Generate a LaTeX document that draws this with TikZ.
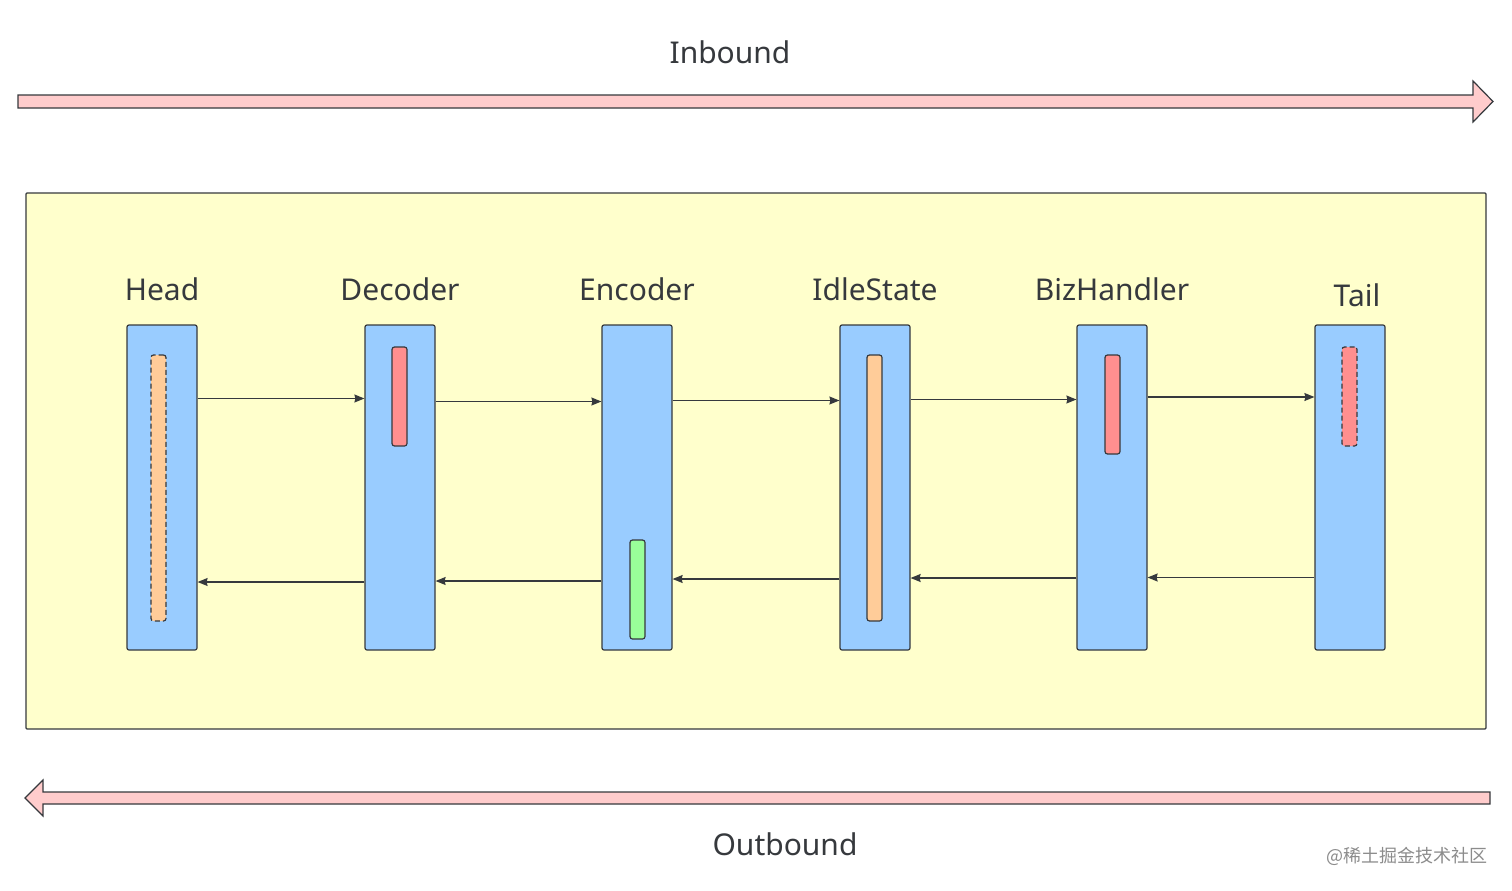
\documentclass[tikz,border=0pt]{standalone}
\usepackage{fontspec}
\usetikzlibrary{arrows.meta}
\setmainfont{Noto Sans}
\newfontfamily\cjk{Noto Sans CJK SC}
\definecolor{bgyellow}{HTML}{FFFFCC}
\definecolor{colblue}{HTML}{99CCFF}
\definecolor{barorange}{HTML}{FFCC99}
\definecolor{barred}{HTML}{FF8F8F}
\definecolor{bargreen}{HTML}{99FF99}
\definecolor{arrowpink}{HTML}{FFCCCC}
\definecolor{stroke}{HTML}{36393D}
\begin{document}
\begin{tikzpicture}[x=1pt,y=-1pt,
  col/.style={draw=stroke,fill=colblue,line width=1.2pt,rounded corners=2pt,minimum width=70pt,minimum height=325pt,inner sep=0pt},
  bar/.style={draw=stroke,line width=1.2pt,rounded corners=2.5pt,minimum width=15pt,inner sep=0pt},
  dashbar/.style={bar,dash pattern=on 5pt off 3pt},
  lbl/.style={font=\fontsize{30}{35}\selectfont,text=stroke,inner sep=0pt},
  conn/.style={draw=stroke,line width=1.3pt,-{Stealth[length=10pt,width=8pt,inset=1pt]}},
  big/.style={draw=stroke,fill=arrowpink,line width=1.2pt,line join=miter}]
\useasboundingbox (0,0) rectangle (1512,891);
\fill[white] (0,0) rectangle (1512,891);
% big arrows
\draw[big] (18,95) -- (1473,95) -- (1473,81) -- (1493,101.5) -- (1473,122) -- (1473,108) -- (18,108) -- cycle;
\draw[big] (1490,792) -- (43,792) -- (43,780) -- (25,798) -- (43,816) -- (43,804) -- (1490,804) -- cycle;
\node[lbl] (inb) at (730,52) {Inbound};
\node[lbl] (outb) at (785,844) {Outbound};
% container
\node[draw=stroke,fill=bgyellow,line width=1.2pt,minimum width=1460pt,minimum height=536pt,inner sep=0pt,rounded corners=1pt] (box) at (756,461) {};
% columns
\node[col] (head) at (162,487.5) {};
\node[col] (dec) at (400,487.5) {};
\node[col] (enc) at (637,487.5) {};
\node[col] (idle) at (875,487.5) {};
\node[col] (biz) at (1112,487.5) {};
\node[col] (tail) at (1350,487.5) {};
% labels
\node[lbl] (lhead) at (162,289) {Head};
\node[lbl] (ldec) at (400,289) {Decoder};
\node[lbl] (lenc) at (637,289) {Encoder};
\node[lbl] (lidle) at (875,289) {IdleState};
\node[lbl] (lbiz) at (1112,289) {BizHandler};
\node[lbl] (ltail) at (1357,295) {Tail};
% inner bars
\node[dashbar,fill=barorange,minimum height=266pt] (bhead) at (158.5,488) {};
\node[bar,fill=barred,minimum height=99pt] (bdec) at (399.5,396.5) {};
\node[bar,fill=bargreen,minimum height=99pt] (benc) at (637.5,589.5) {};
\node[bar,fill=barorange,minimum height=266pt] (bidle) at (874.5,488) {};
\node[bar,fill=barred,minimum height=99pt] (bbiz) at (1112.5,404.5) {};
\node[dashbar,fill=barred,minimum height=99pt] (btail) at (1349.5,396.5) {};
% level coordinates
\coordinate (f1) at (0,398.5);
\coordinate (f2) at (0,401.5);
\coordinate (f3) at (0,400.5);
\coordinate (f4) at (0,399.5);
\coordinate (f5) at (0,397);
\coordinate (g1) at (0,582);
\coordinate (g2) at (0,581);
\coordinate (g3) at (0,579);
\coordinate (g4) at (0,578);
\coordinate (g5) at (0,577.5);
% forward connectors
\draw[conn] (head.east |- f1) -- (dec.west |- f1);
\draw[conn] (dec.east |- f2) -- (enc.west |- f2);
\draw[conn] (enc.east |- f3) -- (idle.west |- f3);
\draw[conn] (idle.east |- f4) -- (biz.west |- f4);
\draw[conn] (biz.east |- f5) -- (tail.west |- f5);
% backward connectors
\draw[conn] (dec.west |- g1) -- (head.east |- g1);
\draw[conn] (enc.west |- g2) -- (dec.east |- g2);
\draw[conn] (idle.west |- g3) -- (enc.east |- g3);
\draw[conn] (biz.west |- g4) -- (idle.east |- g4);
\draw[conn] (tail.west |- g5) -- (biz.east |- g5);
% watermark
\node[font=\cjk\fontsize{18}{21}\selectfont,text=black!45,inner sep=0pt] (wm) at (1407,856) {@稀土掘金技术社区};
\end{tikzpicture}
\end{document}
